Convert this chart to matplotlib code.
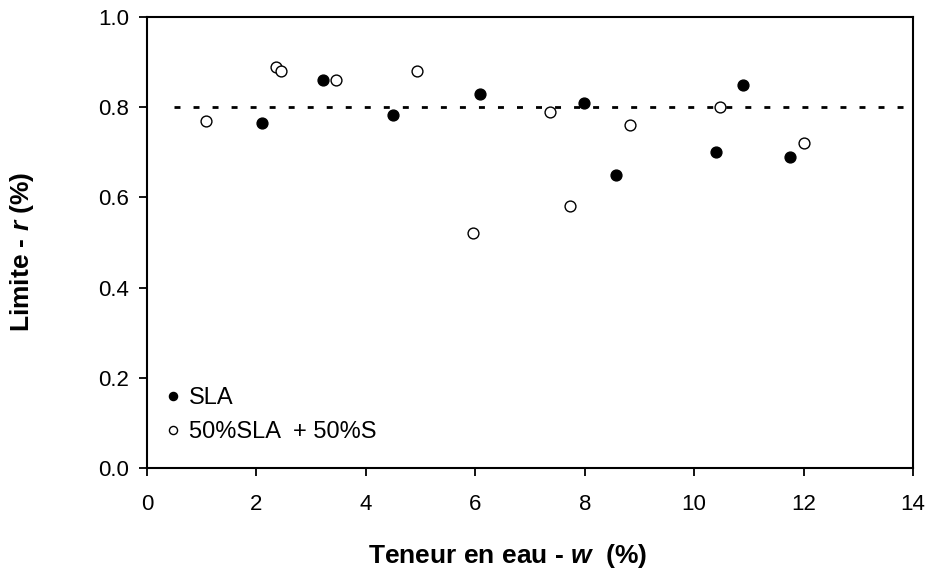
import matplotlib
matplotlib.use("Agg")
import matplotlib.pyplot as plt

plt.rcParams['font.family'] = ['Liberation Sans', 'DejaVu Sans']
plt.rcParams['mathtext.fontset'] = 'custom'
plt.rcParams['mathtext.rm'] = 'Liberation Sans'
plt.rcParams['mathtext.bf'] = 'Liberation Sans:bold'
plt.rcParams['mathtext.bfit'] = 'Liberation Sans:bold:italic'

# SLA (filled)
sla_w = [2.1, 3.22, 4.5, 6.08, 7.98, 8.58, 10.4, 10.9, 11.75]
sla_r = [0.765, 0.86, 0.782, 0.83, 0.81, 0.65, 0.70, 0.85, 0.69]

# 50%SLA + 50%S (open)
mix_w = [1.08, 2.36, 2.45, 3.45, 4.93, 5.95, 7.36, 7.73, 8.82, 10.47, 12.0]
mix_r = [0.77, 0.89, 0.88, 0.86, 0.88, 0.52, 0.79, 0.58, 0.76, 0.80, 0.72]

limit_x = [0.5, 14]
limit_r = [0.8, 0.8]

fig = plt.figure(figsize=(9.32, 5.72), dpi=100)
ax = fig.add_axes([0.1577, 0.1818, 0.8219, 0.7885])

ax.plot(limit_x, limit_r, color='black', linestyle=(0, (2.15, 4.7)), linewidth=2)
ax.plot(sla_w, sla_r, 'o', color='black', markersize=7.8, markeredgewidth=1,
        label='SLA', zorder=3)
ax.plot(mix_w, mix_r, 'o', markerfacecolor='white', markeredgecolor='black',
        markersize=7.8, markeredgewidth=1, label='50%SLA  + 50%S', zorder=3)

ax.set_xlim(0, 14)
ax.set_ylim(0, 1.0)
ax.set_xticks(range(0, 15, 2))
ax.set_yticks([0.0, 0.2, 0.4, 0.6, 0.8, 1.0])
ax.set_yticklabels(['0.0', '0.2', '0.4', '0.6', '0.8', '1.0'])
ax.tick_params(direction='out', length=6, width=1.3, labelsize=16, pad=7)
ax.tick_params(axis='x', pad=13)
for s in ax.spines.values():
    s.set_linewidth(1.5)

ax.set_xlabel(r'Teneur en eau - $\mathbfit{w}$  (%)', fontsize=19,
              fontweight='bold')
ax.set_ylabel(r'Limite - $\mathbfit{r}$ (%)', fontsize=19,
              fontweight='bold')
ax.xaxis.set_label_coords(0.471, -0.163)
ax.yaxis.set_label_coords(-0.145, 0.48)

ax.legend(loc='lower left', bbox_to_anchor=(-0.012, -0.007), frameon=False,
          fontsize=17, markerscale=0.75, handlelength=0.6, handletextpad=0.35,
          labelspacing=0.5, borderaxespad=0.8)

fig.savefig('out.png', dpi=100)
